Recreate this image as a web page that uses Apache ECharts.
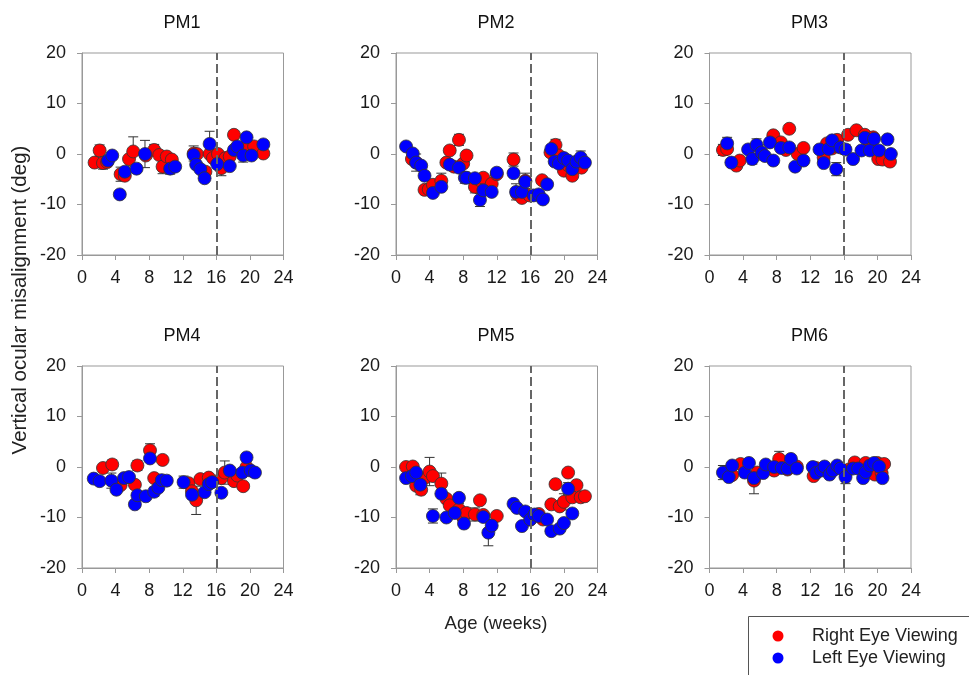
<!DOCTYPE html>
<html>
<head>
<meta charset="utf-8">
<script src="https://cdn.jsdelivr.net/npm/echarts@6/dist/echarts.min.js"></script>
<style>
  html, body { margin: 0; padding: 0; background: #fff; }
  #chart { width: 969px; height: 675px; }
</style>
</head>
<body>
<div id="chart"></div>
<script>
// each point: [age (weeks), misalignment (deg), error]
const panelTitles = ['PM1', 'PM2', 'PM3', 'PM4', 'PM5', 'PM6'];
const xTicks = [0, 4, 8, 12, 16, 20, 24];
const yTicks = [-20, -10, 0, 10, 20];
const cutoffWeek = 16;

const pm1Right = [[1.5,-1.7,0],[2.1,0.7,1.1],[2.5,-1.8,1.2],[3.0,-1.6,0],[4.6,-4,1.4],[5.1,-4.3,0],[5.6,-1,0],[6.1,0.5,2.9],
  [7.6,-0.3,0],[8.6,0.8,1.1],[9.2,-0.2,0],[9.6,-2.5,1.4],[10.1,-0.5,0],[10.7,-1.1,0],[13.3,0.1,1.5],[13.7,0,0],
  [14.7,-3.5,0],[15.2,0,0],[15.6,-0.8,0],[16.2,0,0],[16.6,-2.8,1.5],[17.1,-0.8,0],[17.6,-0.5,0],[18.1,3.8,0],
  [19.6,1.5,0],[20.5,1.5,0],[21.6,0.1,0]];
const pm1Left = [[3.1,-1.3,0],[3.6,-0.3,0],[4.5,-8,0],[5.1,-3.5,0],[6.5,-2.9,0],[7.5,0,2.7],[10.5,-2.9,1.1],[11.1,-2.5,0],
  [13.3,-0.2,0],[13.6,-2.1,0],[14.1,-3,0],[14.6,-4.8,0],[15.2,2,2.5],[16.1,-2,0],[17.6,-2.4,0],[18.1,0.8,0],
  [18.5,1.5,0],[19.6,3.3,0],[19.2,-0.3,1.3],[20.2,-0.3,0],[21.6,1.9,0]];

const pm2Right = [[1.9,-1,0],[2.4,-1.7,1.7],[3.4,-7.1,0],[3.9,-7,0],[4.4,-6.1,0],[5.4,-5.3,1.5],[6.0,-1.7,0],[6.4,0.7,0],
  [6.9,-2.5,0],[7.5,2.8,1.1],[8.0,-1.9,0],[8.4,-0.3,0],[9.4,-6.5,1.2],[10,-5.2,0],[10.4,-4.7,0],[11.4,-5.9,0],
  [12,-4,0],[14,-1.1,1.3],[14.4,-7.9,0],[15,-8.7,0],[15.4,-5.3,1.5],[15.9,-8.2,0],[17.4,-5.2,0],[18.4,0.3,0],
  [19,1.8,1.1],[19.4,-0.3,0],[20,-3.3,0],[20.5,-2.2,0],[21,-4.3,0],[22.1,-2.7,0]];
const pm2Left = [[1.2,1.5,0],[2,0.1,0],[2.4,-1.7,0],[3,-2.3,0],[3.4,-4.3,0],[4.4,-7.7,0],[5.4,-6.5,0],[6.4,-2.1,0],
  [7.5,-2.7,0],[8.2,-4.7,1.1],[8.4,-4.7,0],[9.4,-4.8,0],[10,-9.1,1.3],[10.4,-7.2,0],[11.4,-7.5,0],[12,-3.7,0],
  [14,-3.8,0],[14.3,-7.5,1.6],[15,-7.5,0],[15.4,-5.5,0],[16.4,-8.2,0],[17,-8,0],[17.5,-9,0],[18,-6,0],
  [18.5,1,0],[18.9,-1.5,0],[19.4,-1.9,0],[20,-0.8,0],[20.5,-1.3,0],[21,-3,0],[21.5,-1.5,0],[22,-0.7,1.3],[22.5,-1.7,0]];

const pm3Right = [[1.6,0.8,1.1],[2.1,1,0],[3.2,-2.3,0],[3.6,-1.3,0],[7.6,3.7,0],[8.5,2.3,0],[9.1,0.8,0],[9.5,5,0],
  [10.5,0,0],[11.2,1.2,0],[13.6,-0.7,0],[14,2.1,0],[14.6,1.1,0],[15.2,2.8,0],[15.2,1.5,0],[16.5,3.8,0],
  [17.5,4.7,0],[18.5,3.8,0],[19.1,1.7,0],[19.5,3.3,0],[20.1,-1,0],[20.6,-1.1,0],[21.5,-1.5,0]];
const pm3Left = [[2.1,2.1,1.2],[2.6,-1.7,0],[4.6,0.9,0],[5.1,-1,1],[5.6,1.8,1.2],[6.2,0.3,1.5],[6.6,-0.4,0],[7.2,2.3,0],
  [7.6,-1.3,0],[8.5,1.2,0],[9.5,1.3,0],[10.2,-2.5,0],[11.2,-1.3,0],[13.1,0.9,0],[13.6,-1.8,0],[14.2,1,0],
  [14.6,2.7,0],[15.1,-3,1.3],[15.6,1.3,0],[16.2,0.9,1],[17.1,-1,0],[18.1,0.7,0],[18.5,3.2,0],[19.1,0.7,0],
  [19.6,3,0],[20.2,0.7,0],[21.2,2.9,0],[21.6,0,0]];

const pm4Right = [[2.5,-0.2,0],[3.6,0.5,0.9],[4.6,-3.6,0],[6.3,-3.5,0],[6.6,0.3,1],[8.1,3.3,1.3],[8.6,-2.2,0],[9.6,1.4,0],
  [12.7,-3.2,0],[13.1,-4.8,0],[13.6,-6.6,2.8],[14.1,-2.4,0],[15.1,-2.1,0],[16.6,-2.2,0],[17,-1.1,2.3],
  [18.1,-2.8,0],[18.5,-1.7,0],[19.2,-3.8,0],[19.6,0,0]];
const pm4Left = [[1.4,-2.3,0],[2.1,-2.8,0],[3.5,-2.7,1.5],[4.1,-4.5,0],[5,-2.2,0],[5.6,-2,0],[6.3,-7.4,0],[6.6,-5.6,0],
  [7.6,-5.8,0],[8.1,1.7,0],[8.6,-4.9,0.9],[9.1,-4.1,0],[9.5,-2.6,0],[10.1,-2.7,0],[12.1,-3,1.2],[13.1,-5.5,0],
  [14.6,-5,0],[15.1,-3.4,0],[15.5,-3,0],[16.6,-5.1,0],[17.6,-0.7,0],[19.1,-1.1,0],[19.6,1.9,0],[20.1,-0.7,0],[20.6,-1.1,0]];

const pm5Right = [[1.2,0,0],[2,0.1,0],[2.4,-3.7,0],[3,-4.5,0],[3.4,-2.2,0],[4,-0.9,2.8],[4.4,-1.8,0],[5.4,-3.3,2.1],
  [6,-6.3,0],[6.4,-7.6,0],[7.5,-8.4,1.2],[8,-10,0],[8.4,-9.1,0],[9.4,-9.4,1.3],[10,-6.6,0],[10.4,-9.5,0],
  [12,-9.7,0],[16,-10.4,0],[17,-9.3,0],[17.5,-10.4,0],[18.5,-7.4,0],[19,-3.4,0],[19.5,-7.8,0],[20,-6.9,1.6],
  [20.5,-1.1,0],[21,-6,0],[21.5,-3.6,0],[22,-6,0],[22.5,-5.8,0]];
const pm5Left = [[1.2,-2.2,0],[1.9,-1.8,0],[2.4,-1.1,0],[2.9,-3.5,2],[4.4,-9.7,1.4],[5.4,-5.3,0],[6,-10,0],[7,-9.1,0],
  [7.5,-6.1,0],[8.1,-11.2,0],[10.4,-9.9,0],[11,-13,2.6],[11.4,-11.6,0],[14,-7.3,0],[14.4,-8.1,0],[15,-11.7,0],
  [15.4,-8.8,0],[16,-10.4,0],[16.5,-9.4,0],[17,-9.7,0],[18,-10.4,0],[18.5,-12.7,0],[19.5,-12.2,0],[20,-11.1,0],
  [20.5,-4.3,1.2],[21,-9.2,0]];

const pm6Right = [[1.8,-1.2,0],[2.7,-1.6,0],[3.7,0.6,0],[5.3,-2.7,2.6],[5.7,-1.1,0],[7.7,-0.7,0],[8.3,1.6,1.5],[9.3,-0.5,0],
  [10.4,0.1,0],[12.4,-1.8,0],[12.7,-0.2,0],[16.6,-0.5,0],[17.3,0.9,0],[18.6,0.8,0],[19.7,-1.5,0],[20,0.8,0],
  [20.5,-1.2,0],[20.8,0.6,0]];
const pm6Left = [[1.6,-1.1,1.4],[2.3,-2,0],[2.7,0.3,0],[4.2,-1.1,0],[4.7,0.8,0],[5.3,-2.2,0],[6.4,-1.2,0],[6.7,0.5,0],
  [7.7,0,0],[8.6,-0.2,0],[9.3,-0.3,0],[9.7,1.6,0],[10.4,-0.3,0],[12.3,0,0],[12.7,-1.2,0],[13.3,-0.7,0],
  [13.7,0.1,0],[14.3,-1.5,0],[14.7,-0.7,0],[15.2,0.3,0],[15.6,-0.3,0],[16.2,-2,1.3],[17.1,-0.3,0],[17.7,-0.3,0],
  [18.3,-2.2,0],[18.6,-1,0],[19.1,0.3,0],[19.6,0.8,0],[20.2,0.1,0],[20.6,-2.2,0]];

const rightData = [pm1Right, pm2Right, pm3Right, pm4Right, pm5Right, pm6Right];
const leftData = [pm1Left, pm2Left, pm3Left, pm4Left, pm5Left, pm6Left];

const font = 'Liberation Sans, Arial, sans-serif';
const lefts = [82, 396, 709.5];
const tops = [53, 366];

const chart = echarts.init(document.getElementById('chart'));

const grids = [], xAxes = [], yAxes = [], series = [], titles = [];

function errorBars(data, i) {
  return {
    type: 'custom',
    xAxisIndex: i,
    yAxisIndex: i,
    z: 1,
    silent: true,
    data: data,
    encode: { x: 0, y: 1 },
    renderItem: function (params, api) {
      const e = api.value(2);
      if (!e) return null;
      const x = api.value(0);
      const y = api.value(1);
      const a = api.coord([x, y + e]);
      const b = api.coord([x, y - e]);
      const w = 5;
      const st = { stroke: '#333', lineWidth: 1 };
      return {
        type: 'group',
        children: [
          { type: 'line', shape: { x1: a[0], y1: a[1], x2: b[0], y2: b[1] }, style: st },
          { type: 'line', shape: { x1: a[0] - w, y1: a[1], x2: a[0] + w, y2: a[1] }, style: st },
          { type: 'line', shape: { x1: b[0] - w, y1: b[1], x2: b[0] + w, y2: b[1] }, style: st }
        ]
      };
    }
  };
}

for (let i = 0; i < 6; i++) {
  const col = i % 3, row = Math.floor(i / 3);
  grids.push({
    left: lefts[col], top: tops[row], width: 201.5, height: 202,
    show: true, borderColor: '#999', borderWidth: 1
  });
  xAxes.push({
    gridIndex: i, type: 'value', min: 0, max: 24, interval: 4,
    axisLine: { onZero: false, lineStyle: { color: '#999' } },
    axisTick: { show: true, length: 5, lineStyle: { color: '#999' } },
    axisLabel: { color: '#1a1a1a', fontSize: 18, fontFamily: font, margin: 14 },
    splitLine: { show: false }
  });
  yAxes.push({
    gridIndex: i, type: 'value', min: -20, max: 20, interval: 10,
    axisLine: { show: true, lineStyle: { color: '#999' } },
    axisTick: { show: true, length: 5, lineStyle: { color: '#999' } },
    axisLabel: { color: '#1a1a1a', fontSize: 18, fontFamily: font, margin: 16 },
    splitLine: { show: false }
  });
  titles.push({
    text: panelTitles[i],
    left: lefts[col] + 100, top: row ? 327 : 14, padding: 0,
    textAlign: 'center',
    textStyle: { fontSize: 18, fontWeight: 'normal', color: '#111', fontFamily: font }
  });
  series.push(errorBars(rightData[i], i));
  series.push(errorBars(leftData[i], i));
  series.push({
    name: 'Right Eye Viewing', type: 'scatter', xAxisIndex: i, yAxisIndex: i, z: 2,
    symbolSize: 13, data: rightData[i].map(d => [d[0], d[1]]),
    itemStyle: { color: '#ff0000', borderColor: '#333', borderWidth: 0.8, opacity: 1 },
    markLine: {
      silent: true, symbol: 'none', label: { show: false },
      lineStyle: { color: '#666', type: [9, 4], width: 2 },
      data: [{ xAxis: cutoffWeek }]
    }
  });
  series.push({
    name: 'Left Eye Viewing', type: 'scatter', xAxisIndex: i, yAxisIndex: i, z: 3,
    symbolSize: 13, data: leftData[i].map(d => [d[0], d[1]]),
    itemStyle: { color: '#0000ff', borderColor: '#333', borderWidth: 0.8, opacity: 1 }
  });
}

chart.setOption({
  animation: false,
  title: titles,
  grid: grids,
  xAxis: xAxes,
  yAxis: yAxes,
  series: series,
  graphic: [
    {
      type: 'text', x: 20, y: 300, rotation: Math.PI / 2,
      style: { text: 'Vertical ocular misalignment (deg)', fontSize: 20.5, fontFamily: font, fill: '#222', align: 'center', verticalAlign: 'middle' }
    },
    {
      type: 'text', x: 496, y: 624,
      style: { text: 'Age (weeks)', fontSize: 18.5, fontFamily: font, fill: '#222', align: 'center', verticalAlign: 'middle' }
    },
    {
      type: 'rect', shape: { x: 748.5, y: 616.5, width: 230, height: 70 },
      style: { fill: '#fff', stroke: '#555', lineWidth: 1 }
    },
    { type: 'circle', shape: { cx: 778, cy: 636, r: 5.5 }, style: { fill: '#ff0000' } },
    { type: 'circle', shape: { cx: 778, cy: 658, r: 5.5 }, style: { fill: '#0000ff' } },
    {
      type: 'text', x: 812, y: 636,
      style: { text: 'Right Eye Viewing', fontSize: 18, fontFamily: font, fill: '#222', verticalAlign: 'middle' }
    },
    {
      type: 'text', x: 812, y: 658,
      style: { text: 'Left Eye Viewing', fontSize: 18, fontFamily: font, fill: '#222', verticalAlign: 'middle' }
    }
  ]
});
</script>
</body>
</html>
